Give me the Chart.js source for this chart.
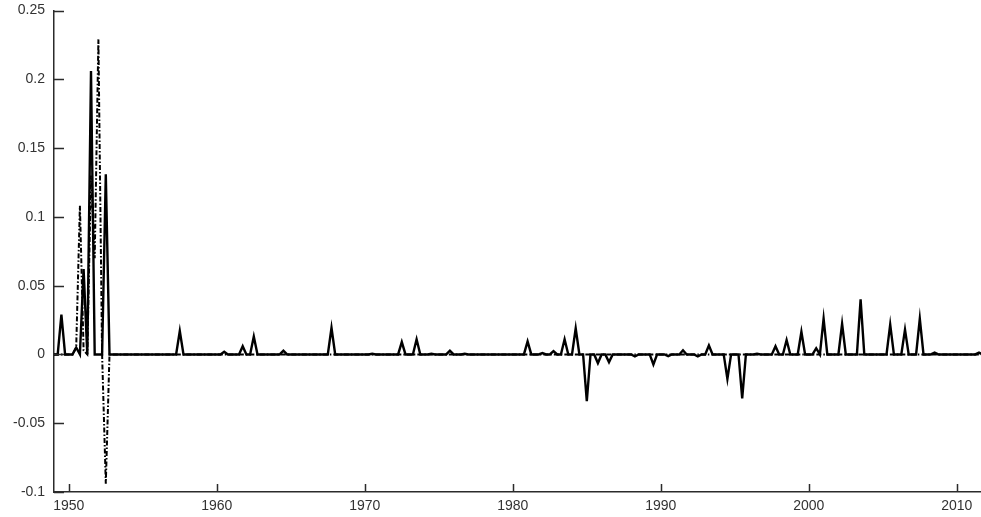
<!DOCTYPE html>
<html lang="en">
<head>
  <meta charset="UTF-8" />
  <title>Quarterly series 1949-2011</title>
  <script src="https://cdn.jsdelivr.net/npm/chart.js"></script>
  <style>
    body { margin: 0; background: #fff; }
    canvas { display: block; }
  </style>
</head>
<body>
  <canvas id="chart" width="981" height="517"></canvas>

  <script>
    // quarterly observations, first one is 1949 Q1
    const startYear = 1949;

    // solid series, one row = 5 years (20 quarters)
    const solidSeries = [
      0, 0, 0.029, 0, 0, 0, 0.005, 0, 0.062, 0, 0.206, 0, 0, 0, 0.131, 0, 0, 0, 0, 0,
      0, 0, 0, 0, 0, 0, 0, 0, 0, 0, 0, 0, 0, 0, 0.017, 0, 0, 0, 0, 0,
      0, 0, 0, 0, 0, 0, 0.002, 0, 0, 0, 0, 0.006, 0, 0, 0.013, 0, 0, 0, 0, 0,
      0, 0, 0.0027, 0, 0, 0, 0, 0, 0, 0, 0, 0, 0, 0, 0, 0.0194, 0, 0, 0, 0,
      0, 0, 0, 0, 0, 0, 0.0005, 0, 0, 0, 0, 0, 0, 0, 0.009, 0, 0, 0, 0.011, 0,
      0, 0, 0.0005, 0, 0, 0, 0, 0.0027, 0, 0, 0, 0.0005, 0, 0, 0, 0, 0, 0, 0, 0,
      0, 0, 0, 0, 0, 0, 0, 0, 0.0095, 0, 0, 0, 0.001, 0, 0, 0.0024, 0, 0, 0.011, 0,
      0, 0.019, 0, 0, -0.034, 0, 0, -0.0063, 0, 0, -0.0056, 0, 0, 0, 0, 0, 0, -0.0015, 0, 0,
      0, 0, -0.0073, 0, 0, 0, -0.0012, 0, 0, 0, 0.003, 0, 0, 0, -0.0015, 0, 0, 0.0065, 0, 0,
      0, 0, -0.0178, 0, 0, 0, -0.032, 0, 0, 0, 0.0005, 0, 0, 0, 0, 0.006, 0, 0, 0.0105, 0,
      0, 0, 0.0165, 0, 0, 0, 0.0045, 0, 0.026, 0, 0, 0, 0, 0.0223, 0, 0, 0, 0, 0.040, 0,
      0, 0, 0, 0, 0, 0, 0.0218, 0, 0, 0, 0.018, 0, 0, 0, 0.026, 0, 0, 0, 0.0013, 0,
      0, 0, 0, 0, 0, 0, 0, 0, 0, 0, 0.0013, 0
    ];

    // dash-dot series, only differs from zero in the early fifties
    const dashSeries = [
      0, 0, 0, 0, 0, 0, 0.005, 0.108, 0.003, 0, 0.13, 0.07, 0.229, 0, -0.094, 0, 0, 0, 0, 0,
      0, 0, 0, 0, 0, 0, 0, 0, 0, 0, 0, 0, 0, 0, 0, 0, 0, 0, 0, 0,
      0, 0, 0, 0, 0, 0, 0, 0, 0, 0, 0, 0, 0, 0, 0, 0, 0, 0, 0, 0,
      0, 0, 0, 0, 0, 0, 0, 0, 0, 0, 0, 0, 0, 0, 0, 0, 0, 0, 0, 0,
      0, 0, 0, 0, 0, 0, 0, 0, 0, 0, 0, 0, 0, 0, 0, 0, 0, 0, 0, 0,
      0, 0, 0, 0, 0, 0, 0, 0, 0, 0, 0, 0, 0, 0, 0, 0, 0, 0, 0, 0,
      0, 0, 0, 0, 0, 0, 0, 0, 0, 0, 0, 0, 0, 0, 0, 0, 0, 0, 0, 0,
      0, 0, 0, 0, 0, 0, 0, 0, 0, 0, 0, 0, 0, 0, 0, 0, 0, 0, 0, 0,
      0, 0, 0, 0, 0, 0, 0, 0, 0, 0, 0, 0, 0, 0, 0, 0, 0, 0, 0, 0,
      0, 0, 0, 0, 0, 0, 0, 0, 0, 0, 0, 0, 0, 0, 0, 0, 0, 0, 0, 0,
      0, 0, 0, 0, 0, 0, 0, 0, 0, 0, 0, 0, 0, 0, 0, 0, 0, 0, 0, 0,
      0, 0, 0, 0, 0, 0, 0, 0, 0, 0, 0, 0, 0, 0, 0, 0, 0, 0, 0, 0,
      0, 0, 0, 0, 0, 0, 0, 0, 0, 0, 0, 0
    ];

    const xTicks = [1950, 1960, 1970, 1980, 1990, 2000, 2010];
    const xTickLabels = ['1950', '1960', '1970', '1980', '1990', '2000', '2010'];
    const yTicks = [-0.1, -0.05, 0, 0.05, 0.1, 0.15, 0.2, 0.25];
    const yTickLabels = ['-0.1', '-0.05', '0', '0.05', '0.1', '0.15', '0.2', '0.25'];

    const toPoints = arr => arr.map((v, i) => ({ x: startYear + i / 4, y: v }));

    const axisColor = '#2b2b2b';
    const textColor = '#333';

    // ticks drawn pointing into the plot, like the original figure
    const inwardTicks = {
      id: 'inwardTicks',
      afterDraw(chart) {
        const { ctx, chartArea, scales } = chart;
        ctx.save();
        ctx.strokeStyle = axisColor;
        ctx.lineWidth = 1.5;
        ctx.beginPath();
        xTicks.forEach(v => {
          const px = Math.round(scales.x.getPixelForValue(v)) + 0.5;
          ctx.moveTo(px, chartArea.bottom);
          ctx.lineTo(px, chartArea.bottom - 8);
        });
        yTicks.forEach(v => {
          const py = Math.round(scales.y.getPixelForValue(v)) + 0.5;
          ctx.moveTo(chartArea.left, py);
          ctx.lineTo(chartArea.left + 10, py);
        });
        ctx.stroke();
        ctx.restore();
      }
    };

    new Chart(document.getElementById('chart'), {
      type: 'line',
      data: {
        datasets: [
          {
            label: 'solid',
            data: toPoints(solidSeries),
            borderColor: '#000',
            borderWidth: 2.4,
            pointRadius: 0,
            tension: 0,
            order: 1
          },
          {
            label: 'dash-dot',
            data: toPoints(dashSeries),
            borderColor: '#000',
            borderWidth: 2,
            borderDash: [5, 2, 1.5, 2],
            pointRadius: 0,
            tension: 0,
            order: 2
          }
        ]
      },
      options: {
        responsive: false,
        animation: false,
        devicePixelRatio: 1,
        layout: { padding: { top: 10.5, right: 0, left: 0, bottom: 0 } },
        plugins: {
          legend: { display: false },
          tooltip: { enabled: false }
        },
        scales: {
          x: {
            type: 'linear',
            min: 1949,
            max: 2011.635,
            grid: { display: false, drawTicks: false },
            border: { display: true, color: axisColor, width: 1.5 },
            ticks: {
              color: textColor,
              font: { family: 'Liberation Sans', size: 14 },
              padding: 6,
              maxRotation: 0,
              callback: (v, i) => xTickLabels[i]
            },
            afterBuildTicks: s => { s.ticks = xTicks.map(v => ({ value: v })); },
            afterFit: s => { s.height = 25; s.paddingLeft = 0; s.paddingRight = 0; }
          },
          y: {
            min: -0.1,
            max: 0.25,
            grid: { display: false, drawTicks: false },
            border: { display: true, color: axisColor, width: 1.5 },
            ticks: {
              color: textColor,
              font: { family: 'Liberation Sans', size: 14 },
              padding: 9,
              callback: (v, i) => yTickLabels[i]
            },
            afterBuildTicks: s => { s.ticks = yTicks.map(v => ({ value: v })); },
            afterFit: s => { s.width = 54; s.paddingTop = 0; s.paddingBottom = 0; }
          }
        }
      },
      plugins: [inwardTicks]
    });
  </script>
</body>
</html>
